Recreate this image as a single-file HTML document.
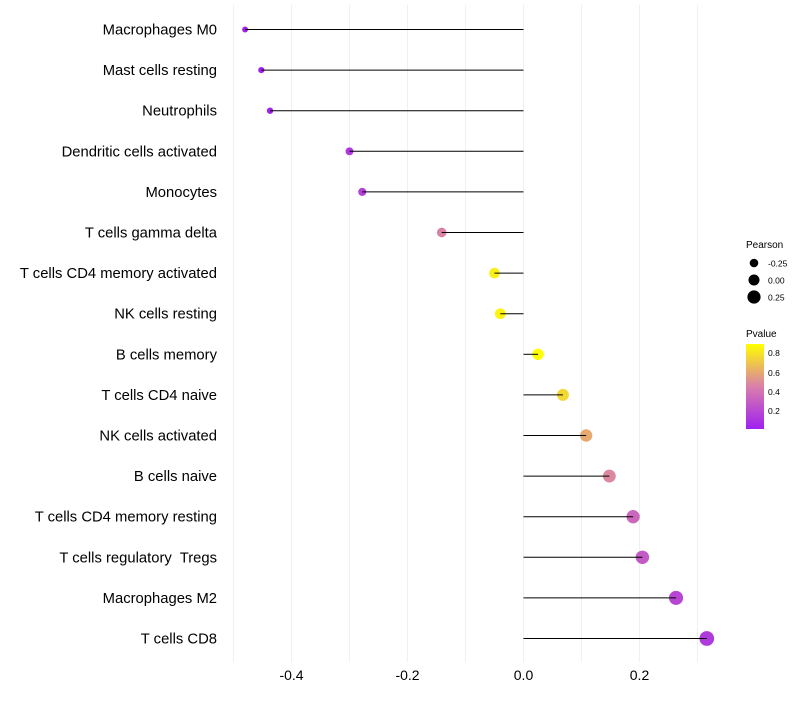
<!DOCTYPE html>
<html><head><meta charset="utf-8"><style>
body{margin:0;background:#fff;}
svg text{font-family:"Liberation Sans",sans-serif;white-space:pre;}
</style></head><body>
<svg id="chart" width="800" height="700" xmlns="http://www.w3.org/2000/svg">
<defs><linearGradient id="pg" x1="0" y1="1" x2="0" y2="0">
<stop offset="0" stop-color="#a020f0"/><stop offset="0.5" stop-color="#d97faa"/><stop offset="1" stop-color="#ffff00"/>
</linearGradient></defs>
<g id="grid"></g><g id="marks"></g><g id="labels"></g>
<g>
<text x="746" y="248" font-size="10">Pearson</text>
<circle cx="754" cy="263" r="4.3" fill="#000"/><text x="768" y="266.5" font-size="8.5">-0.25</text>
<circle cx="754" cy="280" r="5.5" fill="#000"/><text x="768" y="283.5" font-size="8.5">0.00</text>
<circle cx="754" cy="297" r="6.6" fill="#000"/><text x="768" y="300.5" font-size="8.5">0.25</text>
</g>
<g>
<text x="746" y="337" font-size="10">Pvalue</text>
<rect x="746" y="344" width="18" height="85" fill="url(#pg)"/>
<text x="768" y="356" font-size="8.5">0.8</text>
<text x="768" y="376" font-size="8.5">0.6</text>
<text x="768" y="395" font-size="8.5">0.4</text>
<text x="768" y="414" font-size="8.5">0.2</text>
</g>
</svg>
<script>
const categories=["Macrophages M0","Mast cells resting","Neutrophils","Dendritic cells activated","Monocytes","T cells gamma delta","T cells CD4 memory activated","NK cells resting","B cells memory","T cells CD4 naive","NK cells activated","B cells naive","T cells CD4 memory resting","T cells regulatory  Tregs","Macrophages M2","T cells CD8"];
const pearson=[-0.48,-0.452,-0.437,-0.30,-0.278,-0.141,-0.05,-0.04,0.025,0.068,0.108,0.148,0.189,0.205,0.263,0.316];
const pvalue=[0.02,0.02,0.03,0.13,0.17,0.48,0.86,0.88,0.92,0.78,0.62,0.5,0.36,0.3,0.2,0.15];
const xTicks=[-0.4,-0.2,0.0,0.2];
const xTickLabels=["-0.4","-0.2","0.0","0.2"];
const gridVals=[-0.5,-0.4,-0.3,-0.2,-0.1,0,0.1,0.2,0.3];
const NS="http://www.w3.org/2000/svg";
const x=v=>523.5+v*580;
const y=i=>29.5+i*40.6;
const r=v=>Math.max(2,5.6+v*5.5);
function lerp(a,b,t){return a.map((c,k)=>Math.round(c+(b[k]-c)*t));}
function color(p){const t=Math.max(0,Math.min(1,(p-0.02)/0.9));
 const s=[[160,32,240],[217,127,170],[255,255,0]];
 const c=t<0.5?lerp(s[0],s[1],t/0.5):lerp(s[1],s[2],(t-0.5)/0.5);return `rgb(${c})`;}
function mk(tag,attrs,parent){const e=document.createElementNS(NS,tag);for(const k in attrs)e.setAttribute(k,attrs[k]);document.getElementById(parent).appendChild(e);return e;}
gridVals.forEach(v=>{const l=mk('line',{x1:x(v),x2:x(v),y1:5,y2:662,stroke:'#f0f0f0','stroke-width':1},'grid');

});
xTicks.forEach((v,i)=>{const t=mk('text',{x:x(v),y:680,'font-size':14,'text-anchor':'middle',fill:'#000'},'labels');t.textContent=xTickLabels[i];

});
categories.forEach((c,i)=>{
 const t=mk('text',{x:217,y:y(i)+5,'font-size':14.8,'text-anchor':'end',fill:'#000'},'labels');t.textContent=c;
 
 
 const pt=mk('circle',{cx:x(pearson[i]),cy:y(i),r:r(pearson[i]),fill:color(pvalue[i])},'marks');
 
 
 const ln=mk('line',{x1:x(0),x2:x(pearson[i]),y1:y(i),y2:y(i),stroke:'#000','stroke-width':1},'marks');
 
 
});
</script>
</body></html>
